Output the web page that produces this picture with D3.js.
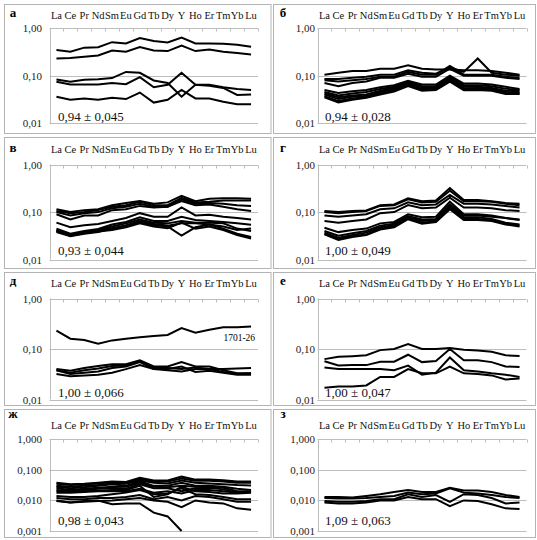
<!DOCTYPE html>
<html><head><meta charset="utf-8">
<script src="https://cdn.jsdelivr.net/npm/d3@7/dist/d3.min.js"></script>
<style>
body{margin:0;background:#fff}
svg{display:block}
svg text{font-family:"Liberation Serif","Times New Roman","DejaVu Serif",serif}
</style>
</head><body>
<script>
const categories = ["La","Ce","Pr","Nd","Sm","Eu","Gd","Tb","Dy","Y","Ho","Er","Tm","Yb","Lu"];
const ticks2 = [1, 0.1, 0.01];
const tickLabels2 = ["1,00","0,10","0,01"];
const ticks3 = [1, 0.1, 0.01, 0.001];
const tickLabels3 = ["1,000","0,100","0,010","0,001"];
const panelLetters = ["а","б","в","г","д","е","ж","з"];
const panelNotes = ["0,94 ± 0,045","0,94 ± 0,028","0,93 ± 0,044","1,00 ± 0,049","1,00 ± 0,066","1,00 ± 0,047","0,98 ± 0,043","1,09 ± 0,063"];
const sampleLabelD = "1701-26";

const seriesA = [
 [0.35,0.32,0.39,0.40,0.51,0.48,0.62,0.54,0.50,0.64,0.48,0.48,0.47,0.45,0.41],
 [0.23,0.237,0.25,0.266,0.34,0.32,0.40,0.34,0.33,0.43,0.33,0.356,0.32,0.30,0.28],
 [0.083,0.074,0.082,0.084,0.089,0.12,0.115,0.079,0.07,0.036,0.064,0.064,0.057,0.052,0.050],
 [0.074,0.065,0.065,0.065,0.07,0.066,0.093,0.057,0.064,0.115,0.064,0.061,0.055,0.039,0.040],
 [0.036,0.031,0.033,0.031,0.034,0.032,0.044,0.027,0.031,0.05,0.033,0.033,0.028,0.025,0.025]
];
const seriesB = [
 [0.105,0.115,0.125,0.125,0.14,0.14,0.165,0.14,0.135,0.135,0.13,0.13,0.125,0.115,0.105],
 [0.085,0.085,0.09,0.095,0.105,0.105,0.13,0.115,0.11,0.15,0.12,0.23,0.115,0.105,0.10],
 [0.08,0.075,0.08,0.085,0.095,0.095,0.12,0.105,0.105,0.16,0.105,0.105,0.105,0.095,0.09],
 [0.07,0.06,0.07,0.075,0.09,0.09,0.11,0.095,0.095,0.14,0.10,0.10,0.10,0.09,0.085],
 [0.05,0.043,0.047,0.05,0.057,0.063,0.078,0.065,0.065,0.10,0.068,0.068,0.065,0.058,0.052],
 [0.045,0.038,0.042,0.045,0.052,0.058,0.074,0.06,0.06,0.095,0.063,0.063,0.06,0.053,0.05],
 [0.042,0.035,0.038,0.04,0.048,0.055,0.07,0.055,0.057,0.09,0.058,0.058,0.055,0.048,0.047],
 [0.04,0.032,0.036,0.037,0.045,0.052,0.066,0.052,0.054,0.085,0.054,0.055,0.053,0.045,0.044],
 [0.037,0.029,0.033,0.035,0.042,0.049,0.063,0.05,0.052,0.08,0.051,0.052,0.05,0.043,0.042],
 [0.035,0.027,0.031,0.034,0.04,0.046,0.06,0.048,0.05,0.075,0.049,0.05,0.048,0.041,0.041]
];
const seriesV = [
 [0.115,0.10,0.11,0.115,0.14,0.155,0.17,0.15,0.16,0.22,0.17,0.19,0.195,0.195,0.19],
 [0.105,0.095,0.10,0.11,0.13,0.14,0.165,0.14,0.14,0.20,0.16,0.165,0.175,0.175,0.175],
 [0.10,0.085,0.095,0.10,0.12,0.13,0.15,0.13,0.13,0.185,0.15,0.155,0.15,0.14,0.135],
 [0.09,0.07,0.085,0.085,0.11,0.115,0.135,0.125,0.13,0.17,0.14,0.145,0.13,0.115,0.105],
 [0.06,0.048,0.053,0.056,0.065,0.075,0.095,0.08,0.08,0.125,0.085,0.088,0.08,0.075,0.07],
 [0.045,0.035,0.04,0.044,0.055,0.062,0.078,0.065,0.065,0.08,0.068,0.065,0.062,0.058,0.054],
 [0.042,0.033,0.038,0.042,0.05,0.058,0.07,0.06,0.058,0.065,0.06,0.06,0.058,0.045,0.04],
 [0.04,0.032,0.036,0.04,0.046,0.053,0.065,0.056,0.052,0.058,0.058,0.055,0.05,0.042,0.045],
 [0.038,0.031,0.035,0.038,0.045,0.05,0.062,0.053,0.05,0.032,0.048,0.055,0.045,0.035,0.03],
 [0.04,0.034,0.037,0.039,0.042,0.048,0.058,0.05,0.046,0.06,0.045,0.05,0.042,0.033,0.028]
];
const seriesG = [
 [0.105,0.10,0.105,0.108,0.14,0.145,0.195,0.17,0.175,0.32,0.18,0.18,0.17,0.155,0.15],
 [0.10,0.095,0.10,0.105,0.135,0.14,0.185,0.16,0.165,0.28,0.17,0.17,0.165,0.15,0.14],
 [0.085,0.08,0.085,0.09,0.115,0.12,0.16,0.14,0.145,0.23,0.15,0.15,0.145,0.135,0.125],
 [0.065,0.06,0.065,0.07,0.095,0.10,0.14,0.12,0.125,0.20,0.125,0.125,0.12,0.11,0.105],
 [0.047,0.038,0.042,0.045,0.058,0.062,0.09,0.078,0.08,0.165,0.09,0.09,0.085,0.075,0.07],
 [0.04,0.032,0.036,0.04,0.052,0.057,0.083,0.07,0.072,0.145,0.085,0.085,0.08,0.075,0.068],
 [0.037,0.029,0.033,0.037,0.048,0.053,0.078,0.065,0.068,0.135,0.078,0.078,0.072,0.06,0.055],
 [0.035,0.027,0.031,0.034,0.045,0.05,0.074,0.06,0.064,0.125,0.072,0.072,0.068,0.056,0.052],
 [0.034,0.026,0.03,0.033,0.043,0.048,0.071,0.057,0.062,0.115,0.068,0.068,0.065,0.055,0.05]
];
const seriesD = [
 [0.23,0.16,0.15,0.127,0.148,0.16,0.17,0.18,0.19,0.26,0.21,0.24,0.27,0.27,0.28],
 [0.04,0.037,0.042,0.046,0.05,0.05,0.06,0.045,0.045,0.055,0.045,0.045,0.038,0.033,0.033],
 [0.038,0.034,0.038,0.041,0.046,0.047,0.058,0.043,0.042,0.04,0.043,0.04,0.04,0.041,0.042],
 [0.038,0.032,0.034,0.036,0.042,0.045,0.055,0.04,0.04,0.045,0.035,0.037,0.034,0.031,0.031],
 [0.032,0.029,0.03,0.031,0.034,0.04,0.048,0.04,0.038,0.036,0.04,0.04,0.035,0.032,0.033]
];
const seriesE = [
 [0.063,0.07,0.072,0.075,0.095,0.10,0.125,0.10,0.10,0.105,0.097,0.093,0.088,0.075,0.073],
 [0.057,0.047,0.048,0.048,0.056,0.056,0.077,0.055,0.058,0.10,0.06,0.06,0.055,0.045,0.044],
 [0.043,0.04,0.04,0.04,0.04,0.038,0.047,0.031,0.034,0.068,0.038,0.036,0.033,0.031,0.028],
 [0.017,0.018,0.018,0.019,0.028,0.028,0.04,0.033,0.033,0.045,0.033,0.032,0.03,0.025,0.026]
];
const seriesJ = [
 [0.038,0.034,0.035,0.038,0.042,0.04,0.055,0.045,0.045,0.06,0.048,0.048,0.046,0.042,0.042],
 [0.035,0.032,0.034,0.036,0.04,0.038,0.05,0.042,0.042,0.052,0.044,0.044,0.042,0.038,0.038],
 [0.03,0.028,0.03,0.032,0.036,0.035,0.045,0.038,0.036,0.045,0.038,0.036,0.034,0.032,0.031],
 [0.028,0.025,0.027,0.03,0.034,0.03,0.042,0.03,0.03,0.038,0.03,0.03,0.028,0.024,0.022],
 [0.025,0.022,0.024,0.026,0.028,0.028,0.038,0.028,0.027,0.03,0.028,0.028,0.026,0.02,0.02],
 [0.022,0.02,0.022,0.024,0.026,0.024,0.034,0.025,0.025,0.02,0.025,0.026,0.023,0.018,0.019],
 [0.02,0.019,0.02,0.021,0.022,0.022,0.03,0.013,0.016,0.028,0.02,0.019,0.017,0.017,0.018],
 [0.018,0.018,0.019,0.02,0.02,0.02,0.024,0.018,0.02,0.017,0.022,0.022,0.02,0.018,0.02],
 [0.014,0.013,0.013,0.014,0.016,0.018,0.022,0.016,0.017,0.025,0.016,0.015,0.013,0.011,0.011],
 [0.012,0.011,0.011,0.012,0.012,0.013,0.015,0.011,0.013,0.01,0.014,0.013,0.011,0.009,0.009],
 [0.01,0.0085,0.0095,0.01,0.0075,0.008,0.008,0.004,0.003,0.001,null,null,null,null,null],
 [0.0095,0.0085,0.009,0.0095,0.01,0.011,0.012,0.01,0.009,0.006,0.01,0.0085,0.008,0.0055,0.005]
];
const seriesZ = [
 [0.013,0.013,0.0125,0.014,0.016,0.019,0.022,0.019,0.019,0.026,0.021,0.021,0.019,0.015,0.013],
 [0.012,0.0115,0.0115,0.012,0.013,0.014,0.018,0.016,0.017,0.025,0.018,0.017,0.015,0.013,0.012],
 [0.0095,0.009,0.009,0.0095,0.011,0.011,0.016,0.013,0.015,0.009,0.016,0.015,0.012,0.008,0.0085],
 [0.0085,0.008,0.008,0.0085,0.01,0.01,0.013,0.011,0.011,0.0065,0.01,0.0095,0.0075,0.0055,0.0052]
];
const allSeries = [seriesA, seriesB, seriesV, seriesG, seriesD, seriesE, seriesJ, seriesZ];

// layout
const W = 537, H = 540;
const rows = [
  {top:4, bottom:133, yTop:28.3, yBot:123, catY:18.5, letterY:17, noteY:121},
  {top:137, bottom:268, yTop:164.5, yBot:259.7, catY:152.5, letterY:152, noteY:254.5},
  {top:272, bottom:405, yTop:298.5, yBot:399.5, catY:286.5, letterY:285, noteY:397},
  {top:409, bottom:537, yTop:439.3, yBot:531, catY:428.5, letterY:418, noteY:525}
];
const cols = [
  {left:4, right:270.5, x0:49.5, x1:258, labelX:42, letterX:13, noteX:58},
  {left:273, right:535, x0:317.5, x1:526.5, labelX:315, letterX:283, noteX:325}
];

const svg = d3.select("body").append("svg").attr("width", W).attr("height", H);

allSeries.forEach((series, i) => {
  const r = rows[Math.floor(i/2)], c = cols[i%2];
  const three = i >= 6;
  const tv = three ? ticks3 : ticks2, tl = three ? tickLabels3 : tickLabels2;
  const g = svg.append("g");
  g.append("rect").attr("x", c.left+0.5).attr("y", r.top+0.5)
    .attr("width", c.right-c.left).attr("height", r.bottom-r.top)
    .attr("fill","none").attr("stroke","#b4b4b4").attr("stroke-width",1);

  const x = d3.scaleBand().domain(categories).range([c.x0, c.x1]);
  const y = d3.scaleLog().domain([tv[tv.length-1], 1]).range([r.yBot, r.yTop]);

  g.selectAll("line.grid").data(tv.slice(1)).enter().append("line")
    .attr("x1", c.x0).attr("x2", c.x1)
    .attr("y1", d => Math.round(y(d))+0.5).attr("y2", d => Math.round(y(d))+0.5)
    .attr("stroke","#bdbdbd").attr("stroke-width",1);
  g.append("line").attr("x1", Math.round(c.x0)+0.5).attr("x2", Math.round(c.x0)+0.5)
    .attr("y1", r.yTop).attr("y2", r.yBot).attr("stroke","#bdbdbd");
  const ta = g.append("g").attr("transform", `translate(0,${Math.round(r.yTop)+0.5})`);
  ta.append("line").attr("x1", c.x0).attr("x2", c.x1).attr("stroke","#bdbdbd");
  const bounds = categories.map(cat => x(cat)).concat([c.x1]);
  ta.selectAll("line.tk").data(bounds.slice(1)).enter().append("line")
    .attr("x1", d => Math.round(d)+0.5).attr("x2", d => Math.round(d)+0.5)
    .attr("y1", 0).attr("y2", 3).attr("stroke","#bdbdbd");
  g.selectAll("text.cat").data(categories).enter().append("text")
    .attr("x", d => x(d) + x.bandwidth()/2).attr("y", r.catY)
    .attr("text-anchor","middle").attr("font-size", 10.5)
    .attr("fill","#111").text(d => d);
  g.selectAll("text.yl").data(tv).enter().append("text")
    .attr("x", c.labelX).attr("y", d => y(d) + 4)
    .attr("text-anchor","end").attr("font-size", 11)
    .attr("fill","#222").text((d,k) => tl[k]);
  const line = d3.line().defined(d => d.v != null)
    .x(d => x(d.c) + x.bandwidth()/2).y(d => y(d.v));
  series.forEach(s => {
    g.append("path").datum(s.map((v,k) => ({c: categories[k], v})))
      .attr("d", line).attr("fill","none").attr("stroke","#000")
      .attr("stroke-width", 2).attr("stroke-linejoin","miter");
  });
  g.append("text").attr("x", c.letterX).attr("y", r.letterY)
    .attr("font-weight","bold").attr("font-size", 13)
    .attr("text-anchor","middle").text(panelLetters[i]);
  g.append("text").attr("x", c.noteX).attr("y", r.noteY)
    .attr("font-size", 13).attr("fill","#111").text(panelNotes[i]);
  if (i === 4) {
    g.append("text").attr("x", x("Lu") + x.bandwidth()/2 + 4).attr("y", y(0.28) + 15)
      .attr("text-anchor","end").attr("font-size", 9.5)
      .text(sampleLabelD);
  }
});
</script>
</body></html>
